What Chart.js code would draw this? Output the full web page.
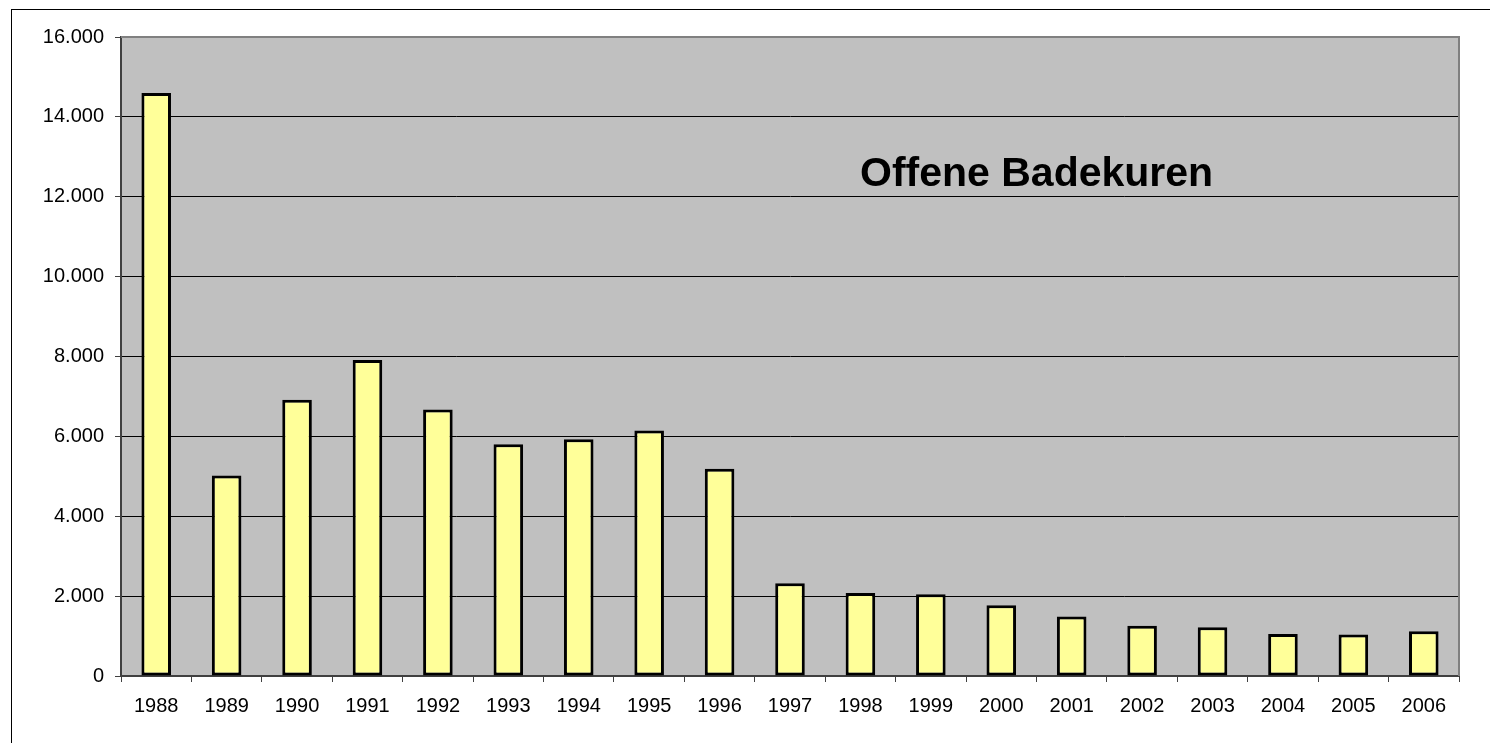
<!DOCTYPE html>
<html>
<head>
<meta charset="utf-8">
<script src="https://cdn.jsdelivr.net/npm/chart.js@4"></script>
<style>
  body { margin: 0; background: #fff; overflow: hidden; }
  #wrap { position: relative; width: 1490px; height: 743px; }
  #frame { position: absolute; left: 11px; top: 9px; width: 2000px; height: 2000px; border: 1px solid #000; }
  canvas { position: absolute; left: 0; top: 0; }
</style>
</head>
<body>
<div id="wrap">
  <div id="frame"></div>
  <canvas id="kuren" width="1490" height="743"></canvas>
</div>
<script>
// values
var years = ['1988','1989','1990','1991','1992','1993','1994','1995','1996','1997',
             '1998','1999','2000','2001','2002','2003','2004','2005','2006'];
var kuren = [14600, 5020, 6920, 7910, 6670, 5800, 5930, 6150, 5190, 2320,
             2080, 2050, 1770, 1490, 1260, 1220, 1050, 1040, 1120];
var yTicks = [0, 2000, 4000, 6000, 8000, 10000, 12000, 14000, 16000];
var chartTitle = 'Offene Badekuren';

function deNum(v) {
	return String(v).replace(/\B(?=(\d{3})+(?!\d))/g, '.');
}

// grey plot area, border and the title inside
var plotArea = {
	id: 'plotArea',
	beforeDraw: function (chart) {
		var a = chart.chartArea, ctx = chart.ctx;
		ctx.save();
		ctx.fillStyle = '#C0C0C0';
		ctx.fillRect(a.left, a.top, a.right - a.left, a.bottom - a.top);
		ctx.restore();
	},
	afterDraw: function (chart) {
		var a = chart.chartArea, ctx = chart.ctx;
		ctx.save();
		ctx.strokeStyle = '#808080';
		ctx.lineWidth = 2;
		ctx.beginPath();
		ctx.moveTo(a.left, a.top);
		ctx.lineTo(a.right, a.top);
		ctx.lineTo(a.right, a.bottom);
		ctx.stroke();
		ctx.fillStyle = '#000';
		ctx.font = 'bold 41px "Liberation Sans", Arial, sans-serif';
		ctx.textBaseline = 'alphabetic';
		ctx.fillText(chartTitle, 860, 186);
		ctx.restore();
	}
};

var ctx = document.getElementById('kuren').getContext('2d');
var badChart = new Chart(ctx, {
	type: 'bar',
	data: {
		labels: years,
		datasets: [{
			label: chartTitle,
			data: kuren,
			backgroundColor: '#FFFF99',
			borderColor: '#000',
			borderWidth: 3,
			borderSkipped: false,
			categoryPercentage: 1,
			barPercentage: 0.42
		}]
	},
	options: {
		responsive: false,
		animation: false,
		layout: { padding: { left: 0, right: 31, top: 37, bottom: 0 } },
		plugins: {
			legend: { display: false },
			tooltip: { enabled: false }
		},
		scales: {
			x: {
				afterFit: function (s) { s.height = 67; },
				border: { display: true, color: '#404040', width: 2 },
				grid: {
					display: true,
					offset: true,
					drawOnChartArea: false,
					drawTicks: true,
					tickLength: 6,
					color: '#404040'
				},
				ticks: {
					color: '#000',
					padding: 12,
					maxRotation: 0,
					font: { family: '"Liberation Sans", Arial, sans-serif', size: 20 }
				}
			},
			y: {
				min: 0,
				max: 16000,
				afterFit: function (s) { s.width = 121; },
				afterBuildTicks: function (s) {
					s.ticks = yTicks.map(function (v) { return { value: v }; });
				},
				border: { display: true, color: '#404040', width: 2 },
				grid: {
					color: function (c) { return c.tick && c.tick.value === 16000 ? 'rgba(0,0,0,0)' : '#000'; },
					lineWidth: 1,
					tickLength: 6,
					tickColor: '#404040'
				},
				ticks: {
					color: '#000',
					padding: 11,
					font: { family: '"Liberation Sans", Arial, sans-serif', size: 20 },
					callback: function (v) { return deNum(v); }
				}
			}
		}
	},
	plugins: [plotArea]
});
</script>
</body>
</html>
